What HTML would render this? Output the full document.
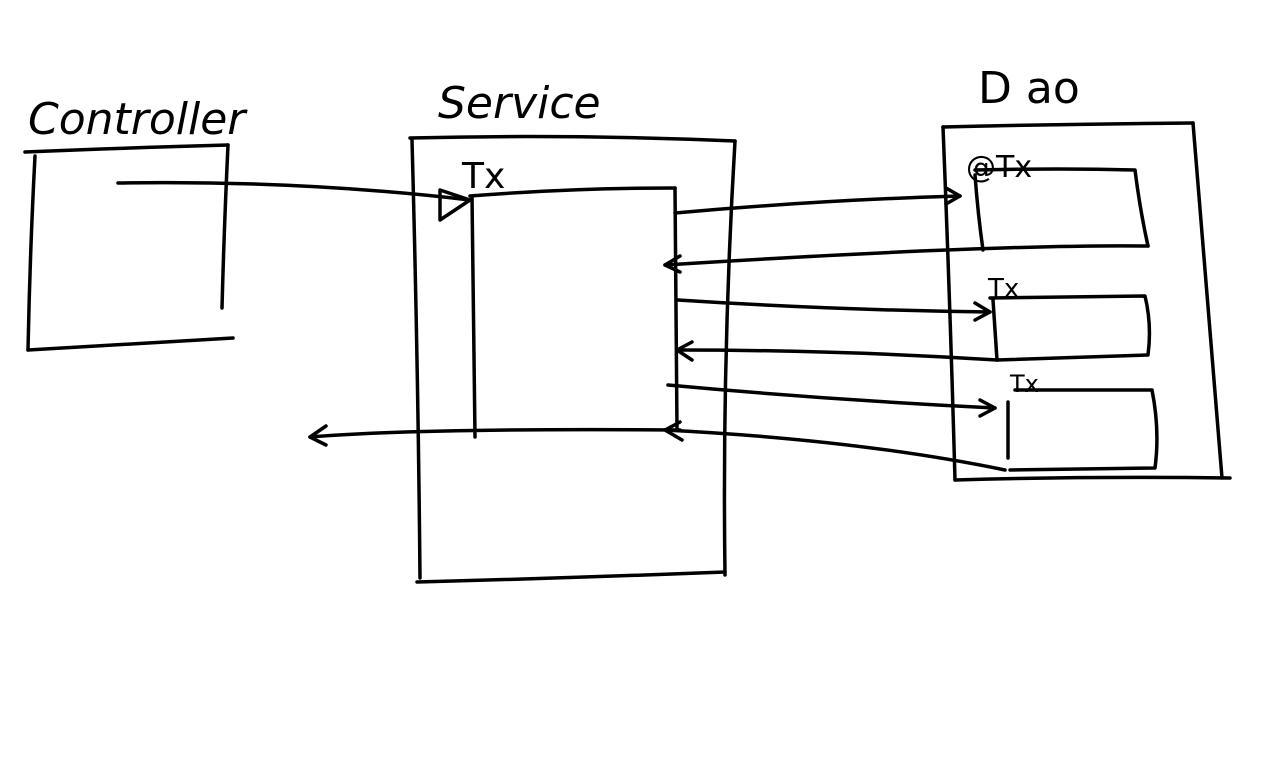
<!DOCTYPE html>
<html><head><meta charset="utf-8"><style>
html,body{margin:0;padding:0;background:#fff;width:1280px;height:768px;overflow:hidden}
svg text{font-family:"DejaVu Sans","Liberation Sans",sans-serif;fill:#000}
</style></head><body>
<svg width="1280" height="768" viewBox="0 0 1280 768" xmlns="http://www.w3.org/2000/svg">
<g fill="none" stroke="#000" stroke-width="3.5" stroke-linecap="round" stroke-linejoin="round">
<!-- Controller box -->
<path d="M25 152 Q120 148 228 145"/>
<path d="M35 156 Q30 250 28 350"/>
<path d="M28 350 Q130 344 233 338"/>
<path d="M228 145 Q224 230 222 308"/>
<!-- Service box -->
<path d="M410 138 Q570 134 735 141"/>
<path d="M412 140 Q418 360 420 578"/>
<path d="M417 582 Q570 578 725 572"/>
<path d="M735 141 Q722 360 725 575"/>
<!-- inner service box -->
<path d="M470 196 Q570 188 675 188"/>
<path d="M472 196 Q474 320 475 437"/>
<path d="M675 188 Q676 310 677 430"/>
<path d="M310 437 Q420 428 680 430"/>
<path d="M326 426 L310 437 L326 445"/>
<!-- controller to service arrow -->
<path d="M118 183 Q300 180 470 200"/>
<path d="M440 190 L470 200 L440 220 Z"/>
<!-- Dao box -->
<path d="M943 127 Q1070 124 1193 123"/>
<path d="M943 127 Q950 300 955 480"/>
<path d="M955 480 Q1090 476 1230 478"/>
<path d="M1193 123 Q1208 300 1222 478"/>
<!-- Dao inner 1 -->
<path d="M975 170 Q1060 168 1135 170 Q1140 210 1148 246"/>
<path d="M975 175 Q978 215 983 250"/>
<path d="M675 213 Q820 200 960 196"/>
<path d="M946 188 L960 196 L946 204"/>
<path d="M1148 246 Q1000 244 665 265"/>
<path d="M680 256 L665 265 L680 272"/>
<!-- Dao inner 2 -->
<path d="M990 298 L1145 296 Q1152 325 1148 355 L997 360"/>
<path d="M993 300 L997 360"/>
<path d="M678 300 Q830 310 990 312"/>
<path d="M975 303 L990 312 L975 320"/>
<path d="M997 360 Q840 350 677 350"/>
<path d="M692 342 L677 350 L692 360"/>
<!-- Dao inner 3 -->
<path d="M1015 390 L1152 390 Q1160 430 1155 468 L1010 470"/>
<path d="M1008 402 L1008 458"/>
<path d="M668 385 Q830 400 995 408"/>
<path d="M980 400 L995 408 L980 416"/>
<path d="M1005 470 Q860 440 665 430"/>
<path d="M680 422 L665 430 L682 440"/>
</g>
<text x="28" y="134" font-size="44" font-style="italic">Controller</text>
<text x="438" y="118" font-size="44" font-style="italic">Service</text>
<text x="978" y="103" font-size="44">D ao</text>
<text x="462" y="188" font-size="36">Tx</text>
<text x="966" y="177" font-size="30">@Tx</text>
<text x="988" y="297" font-size="26">Tx</text>
<text x="1010" y="392" font-size="24">Tx</text>
</svg>
</body></html>
